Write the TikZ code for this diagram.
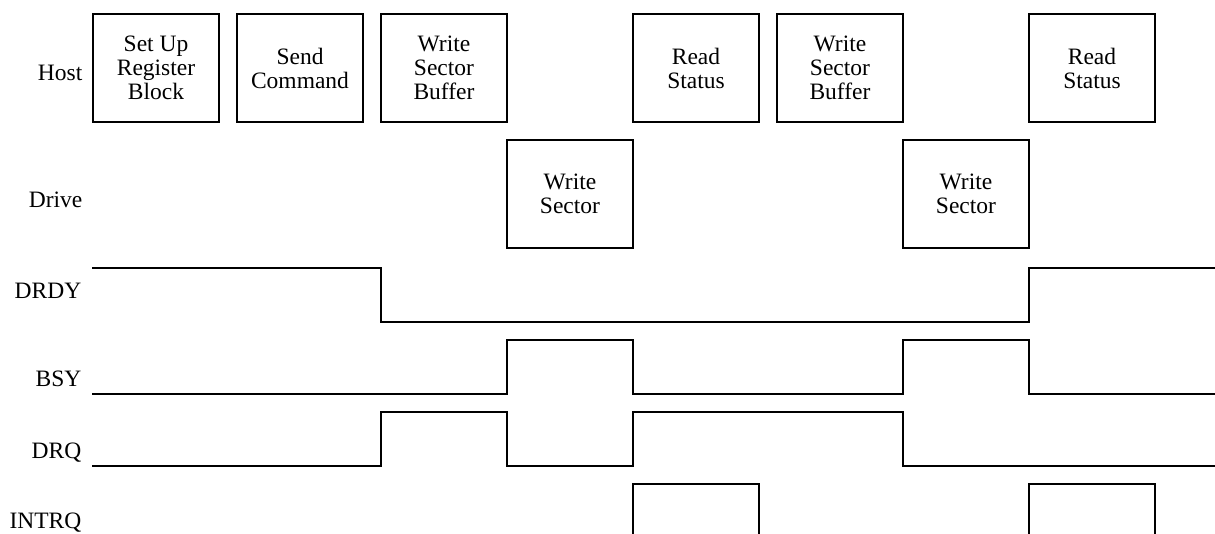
\documentclass[tikz,border=0pt]{standalone}
\usepackage{fontspec}
\setmainfont{Liberation Serif}
\begin{document}
\begin{tikzpicture}[x=1pt,y=-1pt,
  txt/.style={font=\fontsize{23.5}{24}\selectfont},
  box/.style={txt,draw,line width=1.7pt,minimum width=126.6pt,minimum height=108pt,inner sep=0pt,align=center},
  lbl/.style={txt,anchor=base east,inner sep=0pt},
  wave/.style={line width=1.8pt,line join=miter}]
\clip (0,0) rectangle (1215,534);
\fill[white] (0,0) rectangle (1215,534);
% row labels
\node[lbl] (lhost)  at (82.5,81)  {Host};
\node[lbl] (ldrive) at (82.5,208) {Drive};
\node[lbl] (ldrdy)  at (81.5,299) {DRDY};
\node[lbl] (lbsy)   at (81.5,386) {BSY};
\node[lbl] (ldrq)   at (81.5,458) {DRQ};
\node[lbl] (lintrq) at (81.5,528.5) {INTRQ};
% host boxes
\node[box] (h1) at (156.0,68) {Set Up\\Register\\Block};
\node[box] (h2) at (300.0,68) {Send\\Command};
\node[box] (h3) at (444.0,68) {Write\\Sector\\Buffer};
\node[box] (h4) at (696.0,68) {Read\\Status};
\node[box] (h5) at (840.0,68) {Write\\Sector\\Buffer};
\node[box] (h6) at (1092.0,68) {Read\\Status};
% drive boxes
\node[box] (d1) at (570.0,194) {Write\\Sector};
\node[box] (d2) at (966.0,194) {Write\\Sector};
% DRDY
\draw[wave] (92,268) -- (380.7,268) -- (380.7,321.7) -- (1028.7,321.7) -- (1028.7,268) -- (1216,268);
% BSY
\draw[wave] (92,393.7) -- (506.7,393.7) -- (506.7,339.7) -- (632.7,339.7) -- (632.7,393.7)
  -- (902.7,393.7) -- (902.7,339.7) -- (1028.7,339.7) -- (1028.7,393.7) -- (1216,393.7);
% DRQ
\draw[wave] (92,465.7) -- (380.7,465.7) -- (380.7,412) -- (506.7,412) -- (506.7,465.7)
  -- (632.7,465.7) -- (632.7,412) -- (902.7,412) -- (902.7,465.7) -- (1216,465.7);
% INTRQ
\draw[wave] (632.7,540) -- (632.7,484) -- (759.3,484) -- (759.3,540);
\draw[wave] (1028.7,540) -- (1028.7,484) -- (1155.3,484) -- (1155.3,540);
\end{tikzpicture}
\end{document}
